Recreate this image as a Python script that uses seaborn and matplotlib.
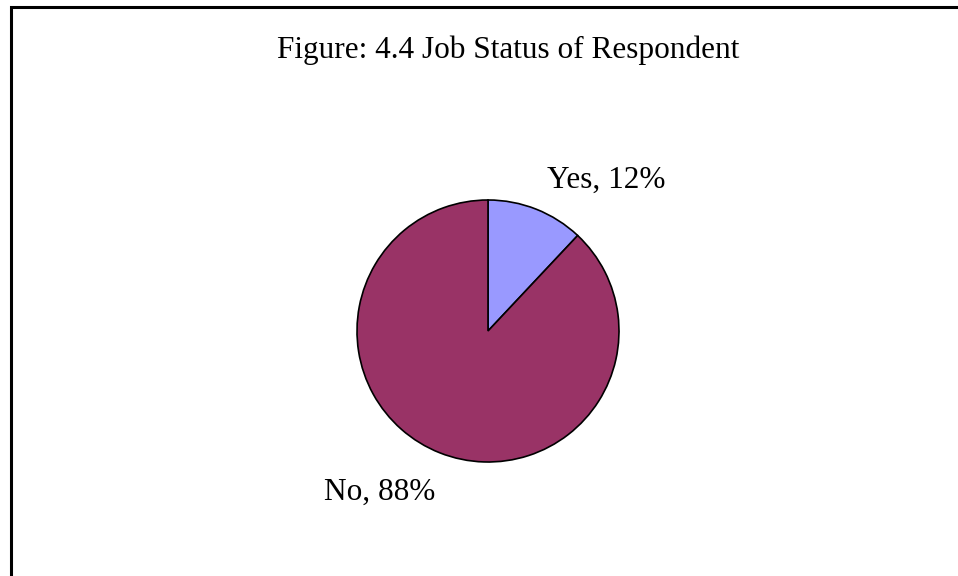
import matplotlib
matplotlib.use("Agg")
import matplotlib.pyplot as plt
import seaborn as sns
from matplotlib.patches import Rectangle

# data
categories = ["Yes", "No"]
shares = [12, 88]
colors = ["#9999FF", "#993366"]
title = "Figure: 4.4 Job Status of Respondent"

sns.set_theme(style="white")
plt.rcParams['font.family'] = ['Liberation Serif', 'DejaVu Serif']

W, H = 958, 576
fig = plt.figure(figsize=(W / 100, H / 100), dpi=100)

# outer frame of the chart area (runs off the right and bottom edges)
fig.patches.append(Rectangle((10.5 / W, -0.05), 1.1, 1 - 7 / H + 0.05,
                             transform=fig.transFigure, fill=False,
                             edgecolor="black", linewidth=2.2))

# pie centred at (488, 331) px with radius ~131 px
cx, cy, r = 488, 331, 131
ax = fig.add_axes([(cx - r) / W, (H - cy - r) / H, 2 * r / W, 2 * r / H])
ax.pie(shares, colors=colors, startangle=90, counterclock=False,
       wedgeprops=dict(edgecolor="black", linewidth=1.2))
ax.set_xlim(-1, 1)
ax.set_ylim(-1, 1)
ax.set_aspect("equal")
ax.axis("off")

# label positions in pie units (centre x, baseline y)
label_pos = [(0.90, 1.09), (-0.83, -1.29)]
for cat, val, (lx, ly) in zip(categories, shares, label_pos):
    ax.text(lx, ly, f"{cat}, {val}%", ha="center", va="baseline",
            fontsize=22.5, color="black", clip_on=False)

fig.text(508 / W, 1 - 58 / H, title, ha="center", va="baseline",
         fontsize=22.5, color="black")

fig.savefig("out.png", dpi=100)
